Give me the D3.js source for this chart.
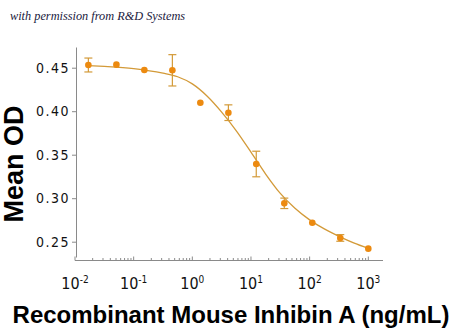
<!DOCTYPE html>
<html><head><meta charset="utf-8">
<script src="https://cdn.jsdelivr.net/npm/d3@7"></script>
<style>
html,body{margin:0;padding:0;background:#fff;}
svg{display:block;}
</style></head>
<body>
<svg id="c" width="450" height="332"></svg>
<script>
// ---- data ----
const conc = [0.0169, 0.0508, 0.152, 0.457, 1.37, 4.12, 12.3, 37.0, 111, 333, 1000];
const meanOD = [0.4531, 0.4535, 0.4474, 0.447, 0.4098, 0.3983, 0.3393, 0.2941, 0.2718, 0.2543, 0.242];
const errOD = [0.008, 0, 0, 0.018, 0, 0.009, 0.0147, 0.006, 0, 0.0038, 0];
// fitted curve
const curveConc = [0.0169, 0.0316, 0.1, 0.316, 0.562, 1, 1.778, 3.162, 5.623, 10, 17.78, 31.62, 56.23, 100, 177.8, 316.2, 562.3, 1000];
const curveOD = [0.4524, 0.4515, 0.4490, 0.4437, 0.4396, 0.4314, 0.4175, 0.3990, 0.3775, 0.3530, 0.3278, 0.3055, 0.2884, 0.2751, 0.2647, 0.2562, 0.2487, 0.2424];
const yTicks = [0.25, 0.30, 0.35, 0.40, 0.45];
const xTickExp = [-2, -1, 0, 1, 2, 3];
const yTitle = "Mean OD";
const xTitle = "Recombinant Mouse Inhibin A (ng/mL)";
const credit = "with permission from R&D Systems";

const svg = d3.select("#c");
const x = d3.scaleLog().domain([0.01, 1000]).range([75, 368.3]);
const y = d3.scaleLinear().domain([0.2324, 0.4738]).range([257, 47]);

const axisCol = "#8a8a8a";
const lineCol = "#D39A38";
const ptCol = "#EC8A10";
const narrow = "'Liberation Sans Narrow','DejaVu Sans Condensed',sans-serif";

// credit
svg.append("text").attr("x", 10).attr("y", 19.5)
  .attr("font-family", "'Liberation Serif','DejaVu Serif',serif")
  .attr("font-style", "italic").attr("font-size", 12.3).attr("fill", "#1a1a40")
  .text(credit);

// y axis
const yAxis = svg.append("g").attr("transform", "translate(76,0)")
  .call(d3.axisLeft(y).tickValues(yTicks).tickFormat(d3.format(".2f")).tickSize(4).tickSizeOuter(0));
yAxis.select(".domain").attr("stroke", axisCol);
yAxis.selectAll(".tick line").attr("stroke", axisCol);
yAxis.selectAll(".tick text").attr("font-family", narrow).attr("font-size", 14)
  .attr("fill", "#111").attr("x", -6).attr("letter-spacing", 1.5);

// x axis (ticks inward)
const xAxisG = svg.append("g").attr("transform", "translate(0,260.5)");
xAxisG.append("line").attr("x1", x(0.01)).attr("x2", 383).attr("stroke", axisCol);
const minor = [];
for (let e = -2; e < 3; e++) for (let m = 2; m <= 9; m++) minor.push(m * Math.pow(10, e));
xAxisG.selectAll("line.minor").data(minor).join("line").attr("class", "minor")
  .attr("x1", d => x(d)).attr("x2", d => x(d)).attr("y1", 0).attr("y2", -2.5).attr("stroke", axisCol);
xAxisG.selectAll("line.major").data(xTickExp).join("line").attr("class", "major")
  .attr("x1", d => x(Math.pow(10, d))).attr("x2", d => x(Math.pow(10, d)))
  .attr("y1", 0).attr("y2", -4).attr("stroke", axisCol);
const lab = xAxisG.selectAll("text.xl").data(xTickExp).join("text").attr("class", "xl")
  .attr("x", d => x(Math.pow(10, d))).attr("y", 28).attr("text-anchor", "middle")
  .attr("font-family", narrow).attr("font-size", 16).attr("fill", "#111");
lab.append("tspan").text("10");
lab.append("tspan").attr("dy", -6).attr("font-size", 10).text(d => String(d));

// curve
svg.append("path")
  .datum(curveConc.map((c, i) => [c, curveOD[i]]))
  .attr("fill", "none").attr("stroke", lineCol).attr("stroke-width", 1.3)
  .attr("d", d3.line().x(d => x(d[0])).y(d => y(d[1])).curve(d3.curveMonotoneX));

// error bars
const pts = conc.map((c, i) => ({c, v: meanOD[i], e: errOD[i]}));
const eb = svg.append("g").attr("stroke", lineCol).attr("stroke-width", 1.2);
pts.filter(d => d.e > 0).forEach(d => {
  const cx = x(d.c);
  eb.append("line").attr("x1", cx).attr("x2", cx).attr("y1", y(d.v - d.e)).attr("y2", y(d.v + d.e));
  eb.append("line").attr("x1", cx - 4).attr("x2", cx + 4).attr("y1", y(d.v - d.e)).attr("y2", y(d.v - d.e));
  eb.append("line").attr("x1", cx - 4).attr("x2", cx + 4).attr("y1", y(d.v + d.e)).attr("y2", y(d.v + d.e));
});

// points
svg.append("g").selectAll("circle").data(pts).join("circle")
  .attr("cx", d => x(d.c)).attr("cy", d => y(d.v)).attr("r", 3.3).attr("fill", ptCol);

// titles
svg.append("text").attr("transform", "translate(23,164) rotate(-90)")
  .attr("text-anchor", "middle").attr("font-family", "'Liberation Sans',Arial,sans-serif")
  .attr("font-weight", "bold").attr("font-size", 27).attr("fill", "#000").text(yTitle);
svg.append("text").attr("x", 231).attr("y", 323).attr("text-anchor", "middle")
  .attr("font-family", "'Liberation Sans',Arial,sans-serif")
  .attr("font-weight", "bold").attr("font-size", 24).attr("fill", "#000").text(xTitle);
</script>
</body></html>
